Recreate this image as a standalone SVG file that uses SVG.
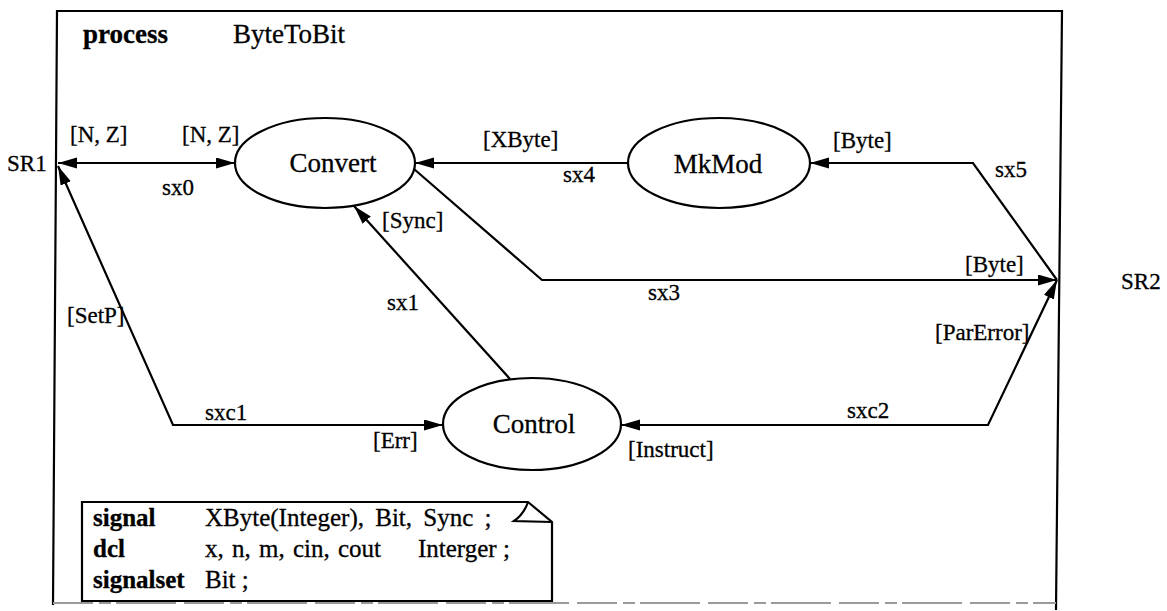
<svg xmlns="http://www.w3.org/2000/svg" width="1167" height="611" viewBox="0 0 1167 611">
  <style>
    text { font-family: "Liberation Serif", "Times New Roman", serif; fill: #000; stroke: #000; stroke-width: 0.3; }
    .title { font-size: 27px; }
    .kw { font-weight: bold; }
    .node { font-size: 27px; text-anchor: middle; }
    .lbl { font-size: 23px; }
    .decl { font-size: 25px; }
    .shape { fill: #fff; stroke: #000; stroke-width: 2.2; }
    .route { fill: none; stroke: #000; stroke-width: 2.2; stroke-linejoin: miter; }
    .frame { fill: none; stroke: #000; stroke-width: 2.2; }
  </style>
  <defs>
    <marker id="arrow" markerUnits="userSpaceOnUse" markerWidth="22" markerHeight="12" refX="19" refY="5.5" orient="auto-start-reverse">
      <path d="M0,0 L19,5.5 L0,11 Z" fill="#000"/>
    </marker>
  </defs>

  <rect width="1167" height="611" fill="#fff"/>

  <!-- process frame -->
  <g id="frame">
    <path class="frame" d="M53,605 L57,11 L1062,11 L1056,610"/>
    <path d="M53,603 L1056,603" fill="none" stroke="#9a9a9a" stroke-width="2" stroke-dasharray="40,6,12,5,60,8"/>
    <text class="title kw" x="83" y="43">process</text>
    <text class="title" x="233" y="43">ByteToBit</text>
  </g>

  <!-- environment gates -->
  <g id="SR1"><text class="lbl" x="7" y="171">SR1</text></g>
  <g id="SR2"><text class="lbl" x="1121" y="289">SR2</text></g>

  <!-- signal routes -->
  <g id="connectors">
    <path id="sx0" class="route" d="M58,163 L235,163" marker-start="url(#arrow)" marker-end="url(#arrow)"/>
    <path id="sxc1" class="route" d="M58,166 L173,425 L443,425" marker-start="url(#arrow)" marker-end="url(#arrow)"/>
    <path id="sx4" class="route" d="M628,163 L415,163" marker-end="url(#arrow)"/>
    <path id="sx5" class="route" d="M1057,280 L973,163 L810,163" marker-end="url(#arrow)"/>
    <path id="sx3" class="route" d="M414,169 L542,280 L1057,280" marker-end="url(#arrow)"/>
    <path id="sx1" class="route" d="M510,379 L354,206" marker-end="url(#arrow)"/>
    <path id="sxc2" class="route" d="M621,425 L988,425 L1057,280" marker-start="url(#arrow)" marker-end="url(#arrow)"/>

    <text class="lbl" x="70" y="142">[N, Z]</text>
    <text class="lbl" x="182" y="142">[N, Z]</text>
    <text class="lbl" x="162" y="195">sx0</text>
    <text class="lbl" x="483" y="147">[XByte]</text>
    <text class="lbl" x="563" y="182">sx4</text>
    <text class="lbl" x="833" y="148">[Byte]</text>
    <text class="lbl" x="995" y="177">sx5</text>
    <text class="lbl" x="965" y="272">[Byte]</text>
    <text class="lbl" x="648" y="300">sx3</text>
    <text class="lbl" x="382" y="228">[Sync]</text>
    <text class="lbl" x="387" y="310">sx1</text>
    <text class="lbl" x="67" y="323">[SetP]</text>
    <text class="lbl" x="935" y="340">[ParError]</text>
    <text class="lbl" x="205" y="420">sxc1</text>
    <text class="lbl" x="847" y="418">sxc2</text>
    <text class="lbl" x="373" y="448">[Err]</text>
    <text class="lbl" x="628" y="457">[Instruct]</text>
  </g>

  <!-- processes -->
  <g id="Convert">
    <ellipse class="shape" cx="325" cy="163" rx="90" ry="45"/>
    <text class="node" x="333" y="172">Convert</text>
  </g>
  <g id="MkMod">
    <ellipse class="shape" cx="719" cy="163" rx="91" ry="45"/>
    <text class="node" x="718" y="173">MkMod</text>
  </g>
  <g id="Control">
    <ellipse class="shape" cx="532" cy="424" rx="89" ry="46"/>
    <text class="node" x="534" y="433">Control</text>
  </g>

  <!-- declarations text symbol -->
  <g id="declarations">
    <path class="shape" d="M82,502 L528,502 L552,522 L552,601 L82,601 Z"/>
    <path class="route" d="M528,502 Q524,514 514,521 L552,522"/>
    <text class="decl kw" x="93" y="526">signal</text>
    <text class="decl" x="205" y="526" word-spacing="5">XByte(Integer), Bit, Sync ;</text>
    <text class="decl kw" x="93" y="557">dcl</text>
    <text class="decl" x="205" y="557" word-spacing="2">x, n, m, cin, cout<tspan x="418" word-spacing="0">Interger ;</tspan></text>
    <text class="decl kw" x="93" y="588">signalset</text>
    <text class="decl" x="205" y="588">Bit ;</text>
  </g>
</svg>
